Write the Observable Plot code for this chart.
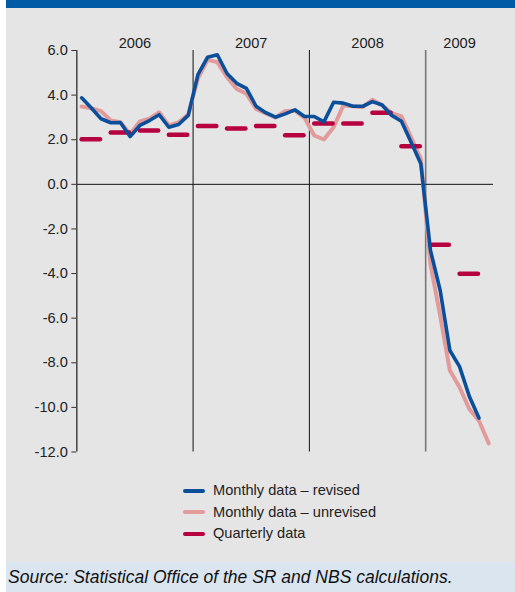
<!DOCTYPE html>
<html>
<head>
<meta charset="utf-8">
<script src="https://cdn.jsdelivr.net/npm/d3@7"></script>
<script src="https://cdn.jsdelivr.net/npm/@observablehq/plot@0.6"></script>
<style>
  html, body { margin: 0; padding: 0; background: #ffffff; }
  #wrap { position: relative; left: 6px; width: 509px; height: 592px; background: #e5e5e5; overflow: hidden; }
  #topbar { position: absolute; left: 0; top: 0; width: 509px; height: 8px; background: #005ba6; }
  #chart { position: absolute; left: 0; top: 8px; }
  #legend { position: absolute; left: 177px; top: 480px; font-family: "Liberation Sans", Arial, sans-serif; font-size: 14.6px; color: #222; }
  .row { height: 21.5px; line-height: 21.5px; display: flex; align-items: center; }
  .sw { width: 22px; height: 4px; border-radius: 2px; margin-right: 8px; }
  #source { position: absolute; left: 0; top: 562px; width: 509px; height: 30px; background: #dbe5f0; font-family: "Liberation Sans", Arial, sans-serif; font-style: italic; font-size: 17.5px; color: #111; line-height: 31px; padding-left: 2px; box-sizing: border-box; white-space: nowrap; }
</style>
</head>
<body>
<div id="wrap">
  <div id="topbar"></div>
  <div id="chart"></div>
  <div id="legend"></div>
  <div id="source">Source: Statistical Office of the SR and NBS calculations.</div>
</div>
<script>
// ---- data ----
const startYear = 2006;
const endX = 2009 + 7 / 12; // axis extends to end of July 2009
const years = ["2006", "2007", "2008", "2009"];
const yTicks = [6, 4, 2, 0, -2, -4, -6, -8, -10, -12];

// Monthly data – revised (Jan 2006 – Jun 2009)
const revised = [
  3.88, 3.42, 2.94, 2.76, 2.77, 2.14, 2.64, 2.86, 3.12, 2.56, 2.68, 3.09,
  4.92, 5.70, 5.81, 4.97, 4.53, 4.30, 3.50, 3.21, 3.01, 3.16, 3.34, 3.04,
  3.04, 2.80, 3.68, 3.64, 3.50, 3.50, 3.71, 3.56, 3.09, 2.83, 1.89, 0.92,
  -2.97, -4.76, -7.45, -8.17, -9.50, -10.48
];
// Monthly data – unrevised (Jan 2006 – Jul 2009)
const unrevised = [
  3.49, 3.41, 3.28, 2.86, 2.78, 2.26, 2.82, 2.94, 3.23, 2.64, 2.78, 3.13,
  4.75, 5.58, 5.48, 4.80, 4.28, 4.06, 3.38, 3.18, 3.00, 3.28, 3.30, 2.98,
  2.19, 2.01, 2.56, 3.53, 3.50, 3.46, 3.79, 3.56, 3.19, 3.05, 2.11, 1.14,
  -3.60, -5.90, -8.35, -9.10, -10.07, -10.60, -11.61
];
// Quarterly data (2006 Q1 – 2009 Q2)
const quarterly = [
  2.02, 2.32, 2.41, 2.22,
  2.62, 2.50, 2.61, 2.20,
  2.73, 2.73, 3.21, 1.71,
  -2.71, -4.01
];

const seriesNames = ["Monthly data – revised", "Monthly data – unrevised", "Quarterly data"];
const seriesColors = ["#0b4f9a", "#e29a9b", "#b6003f"];

// ---- tables built from the arrays ----
const revData = revised.map((v, i) => ({ t: startYear + (i + 0.5) / 12, v }));
const unrevData = unrevised.map((v, i) => ({ t: startYear + (i + 0.5) / 12, v }));
const qData = quarterly.map((v, i) => {
  const c = startYear + (i + 0.5) / 4;
  return { x1: c - 0.079, x2: c + 0.079, v };
});
const yearData = years.map(y => {
  const a = +y, b = Math.min(a + 1, endX);
  return { label: y, c: (a + b) / 2 };
});

const font = '"Liberation Sans", Arial, sans-serif';

const chart = Plot.plot({
  width: 509,
  height: 457,
  marginLeft: 70.3,
  marginRight: 22,
  marginTop: 42,
  marginBottom: 13.5,
  x: { domain: [startYear, endX], axis: null },
  y: { domain: [-12, 6], label: null },
  style: { background: "transparent", fontFamily: font, fontSize: "14.6px", color: "#222" },
  marks: [
    Plot.ruleX([2007, 2008], { y1: -12, y2: 6, stroke: "#111", strokeWidth: 1 }),
    Plot.ruleX([2009], { y1: -12, y2: 6, stroke: "#777", strokeWidth: 1.6 }),
    Plot.ruleY([0], { stroke: "#111", strokeWidth: 1 }),
    Plot.axisY({ ticks: yTicks, label: null, tickSize: 5, tickPadding: 4, tickFormat: d => d.toFixed(1), stroke: "#333", fill: "#222", fontSize: 14.6 }),
    Plot.ruleX([startYear], { y1: -12, y2: 6, stroke: "#444", strokeWidth: 1.5 }),
    Plot.text(yearData, { x: "c", text: "label", frameAnchor: "top", dy: -13, fill: "#222", fontSize: 14.6 }),
    Plot.line(unrevData, { x: "t", y: "v", stroke: seriesColors[1], strokeWidth: 4, strokeLinejoin: "round", strokeLinecap: "round" }),
    Plot.ruleY(qData, { y: "v", x1: "x1", x2: "x2", stroke: seriesColors[2], strokeWidth: 4.5, strokeLinecap: "round" }),
    Plot.line(revData, { x: "t", y: "v", stroke: seriesColors[0], strokeWidth: 3.6, strokeLinejoin: "round", strokeLinecap: "round" })
  ]
});
document.getElementById("chart").appendChild(chart);

// legend
const legend = document.getElementById("legend");
seriesNames.forEach((name, i) => {
  const row = document.createElement("div");
  row.className = "row";
  const sw = document.createElement("span");
  sw.className = "sw";
  sw.style.background = seriesColors[i];
  const lab = document.createElement("span");
  lab.textContent = name;
  row.appendChild(sw);
  row.appendChild(lab);
  legend.appendChild(row);
});
</script>
</body>
</html>
